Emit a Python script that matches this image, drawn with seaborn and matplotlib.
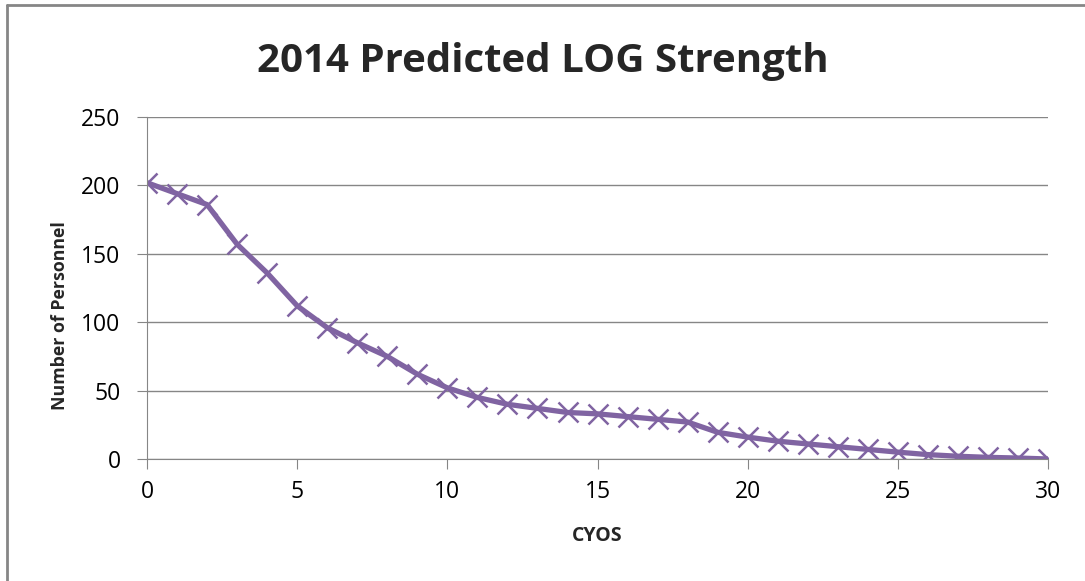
import seaborn as sns
import matplotlib.pyplot as plt
import matplotlib.lines as mlines
import pandas as pd

cyos = list(range(0, 31))
personnel = [202, 194, 186, 157, 136, 112, 96, 85, 75, 62,
             52, 45, 40, 37, 34, 33, 31, 29, 27, 19.5,
             16, 13, 11, 9, 7, 5, 3.2, 2, 1.2, 0.7, 0]

df = pd.DataFrame({"CYOS": cyos, "Number of Personnel": personnel})

sns.set_style("white")
plt.rcParams['font.family'] = ['Open Sans', 'DejaVu Sans']

fig = plt.figure(figsize=(10.85, 5.81), dpi=100)
ax = fig.add_axes([0.1355, 0.21, 0.8305, 0.5885])

sns.lineplot(data=df, x="CYOS", y="Number of Personnel", ax=ax,
             color="#8064A2", linewidth=3.8, marker="x", markersize=14,
             markeredgewidth=1.8, markeredgecolor="#8064A2")

ax.set_xlim(0, 30)
ax.set_ylim(0, 250)
ax.set_xticks(range(0, 31, 5))
ax.set_yticks(range(0, 251, 50))
ax.yaxis.grid(True, color="#868686", linewidth=1)
ax.set_axisbelow(True)
for s in ["top", "right"]:
    ax.spines[s].set_visible(False)
for s in ["left", "bottom"]:
    ax.spines[s].set_color("#868686")
ax.tick_params(axis="both", direction="out", length=7, color="#868686",
               labelsize=16.5, labelcolor="black", bottom=True, left=True)
ax.tick_params(axis="x", pad=8)
ax.tick_params(axis="y", pad=12)

ax.set_xlabel("CYOS", fontsize=14, fontweight="bold")
ax.set_ylabel("Number of Personnel", fontsize=12.8, fontweight="bold")
ax.xaxis.set_label_coords(0.5, -0.197)
ax.yaxis.set_label_coords(-0.0866, 0.42)
fig.text(0.5, 1 - 72 / 581, "2014 Predicted LOG Strength", fontsize=29,
         fontweight="bold", ha="center", va="baseline")

fig.lines.append(mlines.Line2D([7 / 1085, 7 / 1085], [0, 1 - 5 / 581], transform=fig.transFigure,
                               color="#868686", linewidth=2))
fig.lines.append(mlines.Line2D([7 / 1085, 1], [1 - 5 / 581, 1 - 5 / 581], transform=fig.transFigure,
                               color="#868686", linewidth=2))

plt.savefig("out.png", dpi=100)
